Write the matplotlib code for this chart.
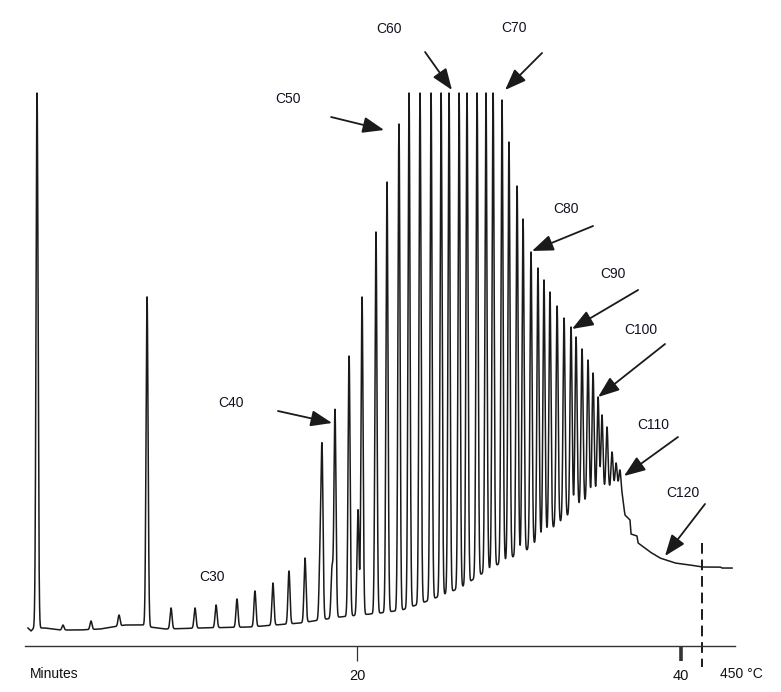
import numpy as np
import matplotlib
matplotlib.use("Agg")
import matplotlib.pyplot as plt

plt.rcParams['font.family'] = ['Liberation Sans', 'DejaVu Sans']

# ---------------- data ----------------
# retention time (min) and apex signal (% of full scale) of the resolved peaks
peak_times = [0.25, 1.85, 3.58, 5.31, 7.04, 8.52, 10.00, 11.30, 12.59, 13.70,
              14.81, 15.80, 16.79, 17.84, 18.64, 19.51, 20.31, 21.17, 21.85, 22.59,
              23.21, 23.89, 24.57, 25.19, 25.68, 26.30, 26.79, 27.41, 27.96, 28.40,
              28.95, 29.38, 29.88, 30.25, 30.74, 31.17, 31.54, 31.91, 32.35, 32.78,
              33.21, 33.52, 33.89, 34.26, 34.57, 34.88, 35.12, 35.43, 35.74, 35.99,
              36.23]
peak_apex = [100.0, 0.56, 1.31, 2.43, 61.9, 3.74, 3.74, 4.30, 5.42, 6.92,
             8.41, 10.65, 13.08, 32.71, 40.75, 50.84, 61.87, 74.02, 83.36, 94.21,
             100.0, 100.0, 100.0, 100.0, 100.0, 100.0, 100.0, 100.0, 100.0, 100.0,
             98.69, 90.84, 82.62, 76.45, 70.28, 67.29, 65.05, 62.80, 60.19, 57.94,
             56.26, 54.39, 52.15, 50.09, 47.66, 43.18, 39.81, 37.57, 32.90, 30.84,
             29.53]
# small shoulder peaks
minor_times = [17.72, 18.46, 20.06]
minor_apex = [12.7, 11.2, 22.1]

# baseline / hump under the peaks (time, signal)
base_times = [-0.31, -0.12, 0.06, 0.74, 1.67, 2.90, 4.14, 5.68, 6.79, 7.22,
              8.15, 10.31, 13.40, 16.48, 18.95, 21.42, 22.78, 24.01, 25.31, 26.48,
              27.47, 28.64, 30.49, 32.10, 33.64, 35.31, 36.11, 36.36, 36.54, 36.85,
              36.91, 37.28, 37.35, 38.09, 38.70, 39.63, 40.56, 41.30, 42.41, 42.53,
              43.15]
base_level = [0.0, -0.56, 0.0, 0.0, -0.37, -0.37, -0.19, 0.56, 0.56, 0.19,
              -0.19, 0.0, 0.19, 0.93, 2.06, 2.80, 3.36, 4.67, 6.17, 7.66,
              9.72, 11.78, 14.58, 18.69, 22.62, 25.79, 26.17, 24.86, 21.12, 20.19,
              17.57, 17.20, 15.89, 14.21, 13.08, 12.15, 11.78, 11.40, 11.40, 11.21,
              11.21]

tick_values = [20, 40]
tick_labels = ["20", "40"]
carbon_labels = ["C30", "C40", "C50", "C60", "C70", "C80", "C90", "C100", "C110", "C120"]
oven_end_time = 41.30
oven_end_label = "450 °C"
axis_label = "Minutes"

# ---------------- layout (positions of annotations) ----------------
label_pos = [(11.05, 9.53), (12.22, 42.06), (15.71, 98.88), (21.98, 111.96),
             (29.69, 112.15), (32.90, 78.32), (35.80, 66.17), (37.53, 55.70),
             (38.27, 37.94), (40.12, 25.23)]
arrow_pos = [None,
             ((15.12, 40.56), (18.46, 38.32)),
             ((18.40, 95.51), (21.67, 93.08)),
             ((24.20, 107.66), (25.86, 100.56)),
             ((31.42, 107.48), (29.14, 100.56)),
             ((34.57, 75.14), (30.80, 70.47)),
             ((37.35, 63.18), (33.27, 55.89)),
             ((39.01, 53.08), (34.88, 43.18)),
             ((39.81, 35.70), (36.48, 28.41)),
             ((41.48, 23.18), (39.01, 13.46))]

# ---------------- build trace ----------------
t = np.linspace(base_times[0], base_times[-1], 30000)
base = np.interp(t, base_times, base_level)
sig = base.copy()
sd = 0.062
for tt, ap in zip(list(peak_times) + minor_times, list(peak_apex) + minor_apex):
    amp = ap - np.interp(tt, base_times, base_level)
    sig += amp * np.exp(-0.5 * ((t - tt) / sd) ** 2)
sig = np.minimum(sig, 100.0)

# ---------------- figure ----------------
fig = plt.figure(figsize=(7.81, 6.92), dpi=100)
ax = fig.add_axes([0, 0, 1, 1])
ax.set_xlim(-2.037, 46.17)
ax.set_ylim(-11.96, 117.38)

ink = '#1a1a1a'
ax.plot(t, sig, color=ink, lw=1.1)

# axis
for s in ['left', 'right', 'top']:
    ax.spines[s].set_visible(False)
ax.spines['bottom'].set_position(('data', -3.36))
ax.spines['bottom'].set_bounds(-0.49, 43.33)
ax.spines['bottom'].set_color('#333333')
ax.spines['bottom'].set_linewidth(1.0)
ax.set_yticks([])
ax.set_xticks(tick_values)
ax.set_xticklabels(tick_labels)
ax.tick_params(axis='x', direction='out', length=10.5, width=0.9, color='#333333',
               pad=6, labelsize=10.5, labelcolor='#111111')
ax.xaxis.get_major_ticks()[1].tick1line.set_markeredgewidth(2.6)

ax.text(-0.19, -8.6, axis_label, ha='left', va='center', fontsize=10, color='#111111')
ax.text(42.41, -8.6, oven_end_label, ha='left', va='center', fontsize=10, color='#111111')
ax.plot([oven_end_time, oven_end_time], [15.89, -7.29], color=ink, lw=1.4,
        dashes=(5.5, 3))

# carbon number annotations
for lab, (lx, ly), arr in zip(carbon_labels, label_pos, arrow_pos):
    ax.text(lx, ly, lab, ha='center', va='center', fontsize=10, color='#111122')
    if arr is not None:
        (x0, y0), (x1, y1) = arr
        ax.annotate('', xy=(x1, y1), xytext=(x0, y0),
                    arrowprops=dict(arrowstyle='-|>,head_length=1.0,head_width=0.38',
                                    mutation_scale=13, color=ink, lw=1.3,
                                    shrinkA=0, shrinkB=0))

fig.savefig('out.png', dpi=100, facecolor='white')
